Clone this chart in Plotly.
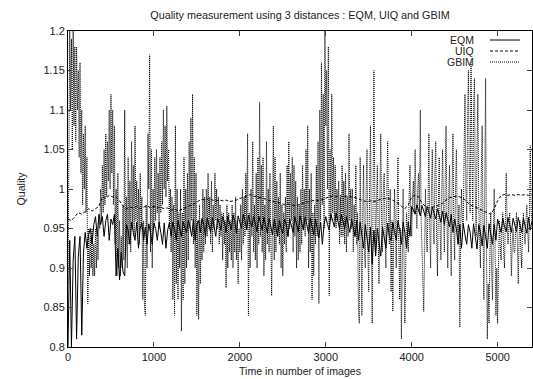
import plotly.graph_objects as go

# Sampling steps (time in number of images)
STEP_EQM = 20
STEP_UIQ = 40
STEP_GBIM = 10

eqm = [
    0.8, 0.935, 0.8, 0.91, 0.94, 0.81, 0.915, 0.94, 0.815, 0.92,
    0.945, 0.925, 0.942, 0.95, 0.93, 0.955, 0.965, 0.94, 0.968, 0.955,
    0.965, 0.94, 0.96, 0.968, 0.935, 0.962, 0.955, 0.968, 0.89, 0.925,
    0.885, 0.92, 0.895, 0.89, 0.955, 0.948, 0.93, 0.958, 0.945, 0.935,
    0.958, 0.925, 0.95, 0.957, 0.935, 0.952, 0.93, 0.956, 0.945, 0.93,
    0.957, 0.95, 0.935, 0.958, 0.945, 0.93, 0.957, 0.925, 0.948, 0.957,
    0.94, 0.958, 0.95, 0.935, 0.96, 0.948, 0.94, 0.958, 0.95, 0.945,
    0.96, 0.952, 0.94, 0.962, 0.935, 0.955, 0.96, 0.945, 0.963, 0.955,
    0.94, 0.963, 0.955, 0.945, 0.964, 0.95, 0.94, 0.963, 0.957, 0.948,
    0.965, 0.958, 0.945, 0.966, 0.955, 0.948, 0.967, 0.96, 0.944, 0.966,
    0.958, 0.95, 0.968, 0.96, 0.948, 0.967, 0.958, 0.952, 0.966, 0.955,
    0.946, 0.966, 0.958, 0.948, 0.964, 0.955, 0.944, 0.963, 0.952, 0.942,
    0.962, 0.953, 0.94, 0.961, 0.95, 0.944, 0.962, 0.955, 0.94, 0.962,
    0.952, 0.945, 0.965, 0.956, 0.946, 0.966, 0.957, 0.948, 0.965, 0.955,
    0.944, 0.963, 0.953, 0.942, 0.962, 0.95, 0.938, 0.958, 0.93, 0.955,
    0.965, 0.955, 0.948, 0.968, 0.96, 0.952, 0.97, 0.958, 0.95, 0.968,
    0.96, 0.95, 0.965, 0.955, 0.945, 0.962, 0.952, 0.94, 0.96, 0.935,
    0.958, 0.94, 0.925, 0.955, 0.935, 0.92, 0.952, 0.905, 0.948, 0.915,
    0.95, 0.93, 0.915, 0.952, 0.935, 0.925, 0.957, 0.94, 0.935, 0.958,
    0.945, 0.935, 0.96, 0.948, 0.93, 0.958, 0.945, 0.925, 0.958, 0.94,
    0.978, 0.972, 0.968, 0.98, 0.973, 0.966, 0.979, 0.971, 0.965, 0.978,
    0.97, 0.963, 0.977, 0.968, 0.962, 0.975, 0.966, 0.958, 0.972, 0.955,
    0.97, 0.96, 0.952, 0.968, 0.945, 0.962, 0.95, 0.93, 0.955, 0.925,
    0.956, 0.942, 0.93, 0.955, 0.945, 0.925, 0.956, 0.94, 0.924, 0.955,
    0.945, 0.928, 0.954, 0.94, 0.925, 0.956, 0.942, 0.93, 0.955, 0.935,
    0.962, 0.955, 0.945, 0.963, 0.952, 0.946, 0.964, 0.955, 0.945, 0.963,
    0.953, 0.946, 0.964, 0.955, 0.945, 0.963, 0.954, 0.944, 0.964, 0.948,
    0.96,
]

uiq = [
    0.962, 0.96, 0.965, 0.97, 0.968, 0.972, 0.975, 0.972, 0.975, 0.978,
    0.99, 0.988, 0.992, 0.99, 0.99, 0.985, 0.978, 0.975, 0.977, 0.976,
    0.978, 0.975, 0.977, 0.979, 0.976, 0.978, 0.976, 0.977, 0.975, 0.976,
    0.973, 0.975, 0.972, 0.974, 0.975, 0.978, 0.98, 0.982, 0.985, 0.987,
    0.986, 0.988, 0.986, 0.985, 0.986, 0.985, 0.986, 0.984, 0.985, 0.986,
    0.988, 0.99, 0.992, 0.993, 0.991, 0.99, 0.989, 0.988, 0.986, 0.985,
    0.984, 0.983, 0.982, 0.98, 0.981, 0.98, 0.979, 0.98, 0.982, 0.983,
    0.984, 0.985, 0.986, 0.985, 0.987, 0.988, 0.99, 0.991, 0.99, 0.992,
    0.99, 0.991, 0.99, 0.99, 0.988, 0.986, 0.985, 0.984, 0.985, 0.984,
    0.986, 0.987, 0.988, 0.988, 0.987, 0.985, 0.982, 0.978, 0.975, 0.98,
    0.99, 0.992, 0.99, 0.982, 0.978, 0.976, 0.977, 0.978, 0.98, 0.982,
    0.986, 0.989, 0.99, 0.991, 0.99, 0.988, 0.984, 0.98, 0.978, 0.976,
    0.974, 0.972, 0.97, 0.968, 0.975, 0.985, 0.992, 0.993, 0.992, 0.993,
    0.992, 0.993, 0.992, 0.993, 0.992, 0.993,
]

gbim = [
    0.88, 1.15, 1.2, 1.1, 1.19, 1.05, 1.2, 1.08, 1.18, 1.06,
    1.18, 1.1, 1.15, 1.04, 1.16, 1.02, 1.1, 0.98, 1.07, 1.0,
    1.08, 0.97, 1.04, 0.855, 0.95, 0.89, 0.94, 0.9, 0.95, 0.89,
    0.93, 0.89, 0.95, 0.9, 0.94, 0.91, 0.96, 0.95, 1.0, 0.96,
    1.03, 0.97, 1.05, 0.98, 1.07, 0.99, 1.06, 1.01, 1.1, 1.0,
    1.12, 1.02, 1.1, 0.98, 1.08, 0.93, 1.0, 0.89, 1.02, 0.9,
    0.96, 0.89, 0.94, 0.9, 0.98, 0.91, 1.1, 0.92, 0.99, 0.9,
    1.04, 0.93, 1.01, 0.92, 1.06, 0.95, 1.03, 0.94, 1.08, 0.96,
    1.01, 0.94, 1.0, 0.93, 1.02, 0.95, 0.99, 0.86, 0.96, 0.85,
    0.84, 0.98, 0.9, 1.07, 1.0, 1.17, 0.92, 1.05, 0.9, 1.0,
    0.95, 1.04, 0.96, 1.05, 0.97, 1.02, 0.95, 1.04, 0.97, 1.06,
    0.98, 1.1, 1.0, 1.08, 0.99, 1.105, 1.01, 1.05, 0.95, 1.0,
    0.92, 0.99, 0.86, 0.98, 0.84, 1.08, 0.88, 1.0, 0.86, 0.97,
    0.9, 1.0, 0.82, 0.97, 0.86, 1.04, 0.88, 1.0, 0.9, 1.02,
    0.91, 1.06, 0.95, 1.09, 0.96, 1.12, 0.93, 1.04, 0.9, 1.02,
    0.84, 0.96, 0.835, 0.98, 0.88, 0.96, 0.91, 1.0, 0.92, 0.99,
    0.93, 1.0, 0.94, 1.02, 0.95, 0.99, 0.93, 1.01, 0.92, 0.98,
    0.95, 1.02, 0.96, 1.0, 0.95, 0.99, 0.93, 0.98, 0.94, 0.97,
    0.91, 0.97, 0.93, 0.96, 0.875, 0.98, 0.9, 0.97, 0.92, 0.96,
    0.91, 0.98, 0.9, 0.97, 0.92, 0.99, 0.91, 0.96, 0.88, 0.95,
    0.92, 0.98, 0.91, 1.0, 0.93, 0.99, 0.94, 1.02, 0.95, 1.07,
    0.84, 0.97, 0.9, 1.0, 0.94, 1.06, 0.92, 0.98, 0.91, 1.02,
    0.9, 1.04, 0.93, 1.11, 0.94, 1.03, 0.92, 1.04, 0.89, 0.98,
    0.91, 1.06, 0.93, 1.0, 0.92, 1.02, 0.9, 0.865, 0.96, 1.08,
    0.91, 1.04, 0.92, 1.01, 0.94, 0.99, 0.93, 1.02, 0.9, 0.98,
    0.89, 0.97, 0.93, 0.99, 0.92, 1.03, 0.94, 1.06, 0.95, 1.02,
    0.96, 1.04, 0.92, 1.03, 0.94, 1.01, 0.9, 0.99, 0.91, 0.98,
    0.92, 1.0, 0.93, 1.03, 0.95, 1.0, 0.94, 1.05, 0.96, 1.08,
    0.9, 1.0, 0.92, 1.02, 0.86, 0.97, 0.89, 0.98, 0.93, 1.03,
    0.94, 1.06, 0.855, 1.1, 0.96, 1.16, 0.98, 1.12, 0.95, 1.2,
    1.08, 1.15, 1.0, 1.18, 0.865, 1.05, 0.96, 1.12, 0.97, 1.04,
    0.96, 1.03, 0.95, 1.0, 0.96, 1.01, 0.93, 0.99, 0.94, 1.03,
    0.94, 1.01, 0.93, 1.02, 0.92, 0.99, 0.94, 1.07, 0.96, 1.0,
    0.95, 1.0, 0.92, 0.98, 0.94, 1.03, 0.93, 0.97, 0.85, 0.83,
    1.04, 0.9, 0.84, 0.97, 1.03, 0.92, 0.9, 1.0, 1.05, 0.92,
    0.87, 1.0, 1.08, 0.95, 0.83, 0.98, 1.15, 1.0, 0.92, 0.98,
    1.03, 0.94, 0.88, 0.99, 1.07, 0.96, 0.92, 1.0, 1.02, 0.94,
    0.9, 0.99, 1.06, 0.97, 0.93, 1.0, 0.87, 0.96, 0.845, 0.94,
    1.0, 0.95, 0.9, 0.98, 1.04, 0.93, 0.86, 0.95, 0.81, 0.9,
    1.0, 0.92, 0.83, 0.9, 0.97, 0.94, 0.92, 0.99, 1.03, 0.96,
    0.94, 0.99, 1.01, 0.97, 1.05, 0.98, 0.95, 1.0, 1.02, 0.97,
    1.1, 0.96, 0.93, 0.9, 0.845, 0.92, 1.0, 0.94, 0.92, 0.98,
    1.07, 0.95, 0.9, 1.0, 1.05, 0.96, 0.93, 1.02, 1.06, 0.94,
    0.89, 0.98, 1.04, 0.95, 0.91, 1.0, 1.05, 0.97, 0.92, 1.01,
    1.08, 0.96, 0.9, 0.99, 1.03, 0.94, 0.89, 1.0, 1.07, 0.95,
    0.91, 1.0, 1.05, 0.96, 0.93, 0.98, 0.825, 0.95, 1.0, 0.96,
    0.95, 1.05, 1.12, 1.0, 0.96, 1.08, 1.15, 1.02, 0.97, 1.16,
    1.06, 0.96, 1.1, 1.14, 1.0, 0.94, 1.05, 1.12, 0.98, 0.93,
    0.9, 1.02, 1.08, 0.95, 0.86, 1.0, 1.14, 0.92, 0.81, 0.88,
    0.83, 0.92, 0.97, 0.9, 0.86, 0.94, 1.0, 0.93, 0.84, 0.9,
    0.83, 0.9, 0.96, 0.93, 0.91, 0.95, 0.97, 0.92, 0.9, 0.96,
    1.02, 0.96, 0.93, 0.95, 0.97, 0.94, 0.89, 0.93, 0.95, 0.92,
    0.92, 0.95, 0.97, 0.93, 0.88, 0.94, 0.96, 0.92, 0.9, 0.95,
    0.97, 0.94, 0.93, 0.96, 0.98, 0.95, 0.92, 0.96, 1.055, 0.97,
    0.96,
]

x_ticks = [0, 1000, 2000, 3000, 4000, 5000]
y_ticks = [0.8, 0.85, 0.9, 0.95, 1.0, 1.05, 1.1, 1.15, 1.2]
y_tick_text = ["0.8", "0.85", "0.9", "0.95", "1", "1.05", "1.1", "1.15", "1.2"]
series_names = ["EQM", "UIQ", "GBIM"]

FONT = "Liberation Sans, Arial, sans-serif"
TEXT_COLOR = "#222"
DASHES = ["solid", "3px,2px", "1px,1px"]

x_eqm = [i * STEP_EQM for i in range(len(eqm))]
x_uiq = [i * STEP_UIQ for i in range(len(uiq))]
x_gbim = [i * STEP_GBIM for i in range(len(gbim))]

fig = go.Figure()
for name, xs, ys, dash in zip(series_names, [x_eqm, x_uiq, x_gbim], [eqm, uiq, gbim], DASHES):
    fig.add_trace(go.Scatter(x=xs, y=ys, mode="lines", name=name,
                             line=dict(color="black", width=1, dash=dash),
                             showlegend=False))

W, H = 533, 379
L, R, T, B = 68, 1, 31, 32
pw, ph = W - L - R, H - T - B

def px_to_paper(px, py):
    return (px - L) / pw, (H - B - py) / ph

annotations = []
shapes = []
legend_rows = [40, 51, 62]
for name, row_y, dash in zip(series_names, legend_rows, DASHES):
    tx, ty = px_to_paper(476, row_y)
    annotations.append(dict(x=tx, y=ty, xref="paper", yref="paper", text=name,
                            showarrow=False, xanchor="right", yanchor="middle",
                            font=dict(family=FONT, size=10.5, color=TEXT_COLOR)))
    x0, y0 = px_to_paper(490, row_y)
    x1, _ = px_to_paper(520, row_y)
    shapes.append(dict(type="line", xref="paper", yref="paper", x0=x0, x1=x1, y0=y0, y1=y0,
                       line=dict(color="black", width=1, dash=dash)))

fig.update_layout(
    width=W, height=H, autosize=False,
    margin=dict(l=L, r=R, t=T, b=B, pad=0),
    paper_bgcolor="white", plot_bgcolor="white",
    font=dict(family=FONT, size=11, color=TEXT_COLOR),
    title=dict(text="Quality measurement using 3 distances : EQM, UIQ and GBIM",
               x=(L + pw / 2) / W, xanchor="center", y=1 - 15 / H, yanchor="middle",
               font=dict(family=FONT, size=10.8, color=TEXT_COLOR)),
    xaxis=dict(range=[0, 5400], tickvals=x_ticks, ticks="inside", ticklen=5,
               showline=True, linecolor="black", linewidth=1, mirror="ticks",
               showgrid=False, zeroline=False, automargin=False,
               tickfont=dict(family=FONT, size=11, color=TEXT_COLOR),
               title=dict(text="Time in number of images", standoff=5,
                          font=dict(family=FONT, size=10.6, color=TEXT_COLOR))),
    yaxis=dict(range=[0.8, 1.2], tickvals=y_ticks, ticktext=y_tick_text,
               ticks="inside", ticklen=5,
               showline=True, linecolor="black", linewidth=1, mirror="ticks",
               showgrid=False, zeroline=False, automargin=False,
               tickfont=dict(family=FONT, size=11, color=TEXT_COLOR),
               title=dict(text="Quality", standoff=15,
                          font=dict(family=FONT, size=10.6, color=TEXT_COLOR))),
    annotations=annotations,
    shapes=shapes,
)

fig.write_html("out.html", config={"displayModeBar": False},
               post_script="document.body.style.margin='0';document.body.style.padding='0';")
